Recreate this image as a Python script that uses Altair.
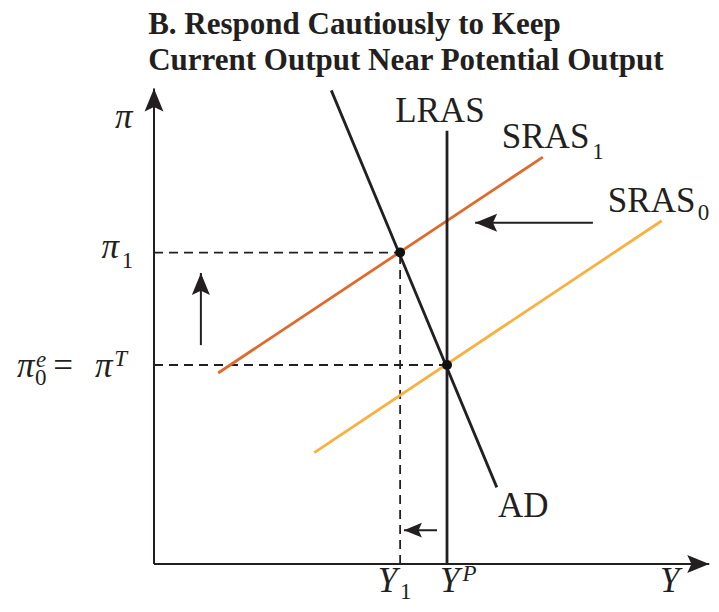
import altair as alt
import pandas as pd

# ---------------- values (output Y, inflation pi) ----------------
Y_P = 100.0          # potential output
Y_1 = 84.0           # current output after shock
PI_T = 2.0           # target / expected inflation
PI_1 = 3.13          # inflation after supply shock

curve_names = ["AD", "SRAS1", "SRAS0", "LRAS"]
curve_colors = ["#231f20", "#e06a2c", "#f8b13f", "#231f20"]
AD_Y = [60.5, 117.0]
AD_PI = [4.76, 0.77]
SRAS1_Y = [21.9, 132.7]
SRAS1_PI = [1.92, 4.09]
SRAS0_Y = [54.7, 173.3]
SRAS0_PI = [1.12, 3.45]
LRAS_Y = [Y_P, Y_P]
LRAS_PI = [0.0, 4.355]

# equilibrium points
eq_Y = [Y_1, Y_P]
eq_PI = [PI_1, PI_T]

# arrows: tail -> tip
arrow_x0 = [0.0, 0.0, 16.0, 149.8, 96.6]
arrow_y0 = [0.0, 0.0, 2.20, 3.43, 0.34]
arrow_x1 = [0.0, 189.5, 16.0, 109.6, 85.3]
arrow_y1 = [4.78, 0.0, 2.925, 3.43, 0.34]
arrow_angle = [0, 90, 0, 270, 270]
arrow_head = [23, 22, 22, 22, 18]

# labels
title_lines = ["B. Respond Cautiously to Keep", "Current Output Near Potential Output"]
title_x = [-2.0, -2.0]
title_y = [5.33, 4.962]

roman_text = ["LRAS", "SRAS", "SRAS", "AD", "="]
roman_x = [82.3, 118.7, 154.9, 117.4, -31.0]
roman_y = [4.445, 4.181, 3.541, 0.475, 1.882]
roman_align = ["left", "left", "left", "left", "center"]

sub_text = ["1", "0", "1", "0", "1"]
sub_x = [149.6, 185.6, -11.0, -40.6, 84.0]
sub_y = [4.07, 3.457, 2.975, 1.80, -0.35]

ital_text = ["π", "π", "π", "π", "Y", "Y", "Y"]
ital_x = [-13.3, -17.9, -46.8, -20.1, 76.4, 97.6, 172.7]
ital_y = [4.382, 3.075, 1.882, 1.882, -0.28, -0.28, -0.28]

sup_text = ["e", "T", "P"]
sup_x = [-40.3, -13.6, 105.3]
sup_y = [1.975, 1.99, -0.17]

# ---------------- layout (pixel mapping) ----------------
W, H = 703, 596
XMIN, XMAX = -49.83, 190.1
YMIN, YMAX = -0.402, 5.588
xs = alt.Scale(domain=[XMIN, XMAX], nice=False, zero=False)
ys = alt.Scale(domain=[YMIN, YMAX], nice=False, zero=False)
FONT = "Liberation Serif"

rows = []
for name, xv, yv in zip(curve_names, [AD_Y, SRAS1_Y, SRAS0_Y, LRAS_Y], [AD_PI, SRAS1_PI, SRAS0_PI, LRAS_PI]):
    for i, (a, b) in enumerate(zip(xv, yv)):
        rows.append({"name": name, "x": a, "y": b, "o": i})
curves = pd.DataFrame(rows)

curve_layer = alt.Chart(curves).mark_line(strokeWidth=2.8, strokeCap="butt").encode(
    x=alt.X("x:Q", scale=xs, axis=None),
    y=alt.Y("y:Q", scale=ys, axis=None),
    color=alt.Color("name:N", scale=alt.Scale(domain=curve_names, range=curve_colors), legend=None),
    detail="name:N",
    order="o:Q",
)

dash_df = pd.DataFrame({
    "x": [0.0, 0.0, Y_1],
    "x2": [Y_1, Y_P, Y_1],
    "y": [PI_1, PI_T, 0.0],
    "y2": [PI_1, PI_T, PI_1],
})
dash_layer = alt.Chart(dash_df).mark_rule(strokeDash=[9, 6], strokeWidth=1.8, color="#231f20").encode(
    x=alt.X("x:Q", scale=xs, axis=None), x2="x2:Q",
    y=alt.Y("y:Q", scale=ys, axis=None), y2="y2:Q",
)

arrows = pd.DataFrame({
    "x0": arrow_x0, "y0": arrow_y0, "x1": arrow_x1, "y1": arrow_y1,
    "angle": arrow_angle, "size": [h * h for h in arrow_head],
})
shaft_layer = alt.Chart(arrows).mark_rule(strokeWidth=2, color="#231f20").encode(
    x=alt.X("x0:Q", scale=xs, axis=None), x2="x1:Q",
    y=alt.Y("y0:Q", scale=ys, axis=None), y2="y1:Q",
)
head_layer = alt.Chart(arrows).mark_point(
    filled=True, opacity=1, color="#231f20",
    shape="M0,0 L0.82,2 L0,1.62 L-0.82,2 Z",
).encode(
    x=alt.X("x1:Q", scale=xs, axis=None),
    y=alt.Y("y1:Q", scale=ys, axis=None),
    angle=alt.Angle("angle:Q", scale=None),
    size=alt.Size("size:Q", scale=None),
)

eq_layer = alt.Chart(pd.DataFrame({"x": eq_Y, "y": eq_PI})).mark_circle(
    size=100, color="#111111", opacity=1
).encode(
    x=alt.X("x:Q", scale=xs, axis=None),
    y=alt.Y("y:Q", scale=ys, axis=None),
)


def text_layer(texts, xv, yv, size, style="normal", weight="normal", align="left"):
    df = pd.DataFrame({"t": texts, "x": xv, "y": yv})
    aligns = align if isinstance(align, list) else [align] * len(texts)
    df["a"] = aligns
    layers = []
    for al in sorted(set(aligns)):
        sub = df[df["a"] == al]
        layers.append(
            alt.Chart(sub).mark_text(
                font=FONT, fontSize=size, fontStyle=style, fontWeight=weight,
                align=al, baseline="alphabetic", color="#231f20",
            ).encode(
                x=alt.X("x:Q", scale=xs, axis=None),
                y=alt.Y("y:Q", scale=ys, axis=None),
                text="t:N",
            )
        )
    return alt.layer(*layers)


title_layer = text_layer(title_lines, title_x, title_y, 31, weight="bold")
roman_layer = text_layer(roman_text, roman_x, roman_y, 35, align=roman_align)
sub_layer = text_layer(sub_text, sub_x, sub_y, 23)
ital_layer = text_layer(ital_text, ital_x, ital_y, 35, style="italic")
sup_layer = text_layer(sup_text, sup_x, sup_y, 23, style="italic")

chart = alt.layer(
    dash_layer, curve_layer, shaft_layer, head_layer, eq_layer,
    title_layer, roman_layer, sub_layer, ital_layer, sup_layer,
).properties(
    width=W, height=H,
    autosize=alt.AutoSizeParams(type="none"),
    padding=0,
).configure_view(stroke=None)

chart.save("out.html", embed_options={"renderer": "svg", "actions": False})
